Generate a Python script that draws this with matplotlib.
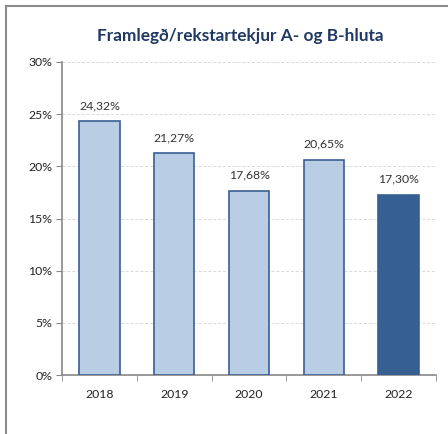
import matplotlib as mpl
mpl.use('Agg')
import matplotlib.pyplot as plt
from matplotlib.lines import Line2D

years = ['2018', '2019', '2020', '2021', '2022']
values = [24.32, 21.27, 17.68, 20.65, 17.30]
labels = ['24,32%', '21,27%', '17,68%', '20,65%', '17,30%']
yticks = [0, 5, 10, 15, 20, 25, 30]

plt.rcParams['font.family'] = ['Lato', 'DejaVu Sans']

fig = plt.figure(figsize=(4.48, 4.34), dpi=100)
ax = fig.add_axes([62/448, 1 - 375/434, (436 - 62)/448, (375 - 62)/434])

x = list(range(len(years)))
face = ['#B9CDE5'] * 4 + ['#376092']
edge = ['#3A5F92'] * 4 + ['#376092']
ax.bar(x, values, width=0.54, color=face, edgecolor=edge, linewidth=1.2, zorder=3)

for xi, v, lab in zip(x, values, labels):
    ax.annotate(lab, (xi, v), xytext=(0, 7), textcoords='offset points',
                ha='center', va='bottom', fontsize=8.8, color='#333333')

ax.set_xlim(-0.5, 4.5)
ax.set_ylim(0, 30)
ax.set_yticks(yticks)
ax.set_yticklabels(['{}%'.format(t) for t in yticks])
ax.set_xticks(x)
ax.set_xticklabels(years)
ax.set_xticks([i + 0.5 for i in range(-1, 5)], minor=True)
ax.tick_params(axis='x', which='major', length=0, pad=10, labelsize=8.8, colors='#222222')
ax.tick_params(axis='x', which='minor', length=4, color='#888888', direction='out')
ax.tick_params(axis='y', length=4, labelsize=8.8, colors='#222222', pad=3)
ax.tick_params(axis='y', color='#888888')

ax.grid(axis='y', color='#D9D9D9', linestyle=(0, (3, 2)), linewidth=0.7, zorder=0)
for s in ['top', 'right']:
    ax.spines[s].set_visible(False)
for s in ['left', 'bottom']:
    ax.spines[s].set_color('#888888')
    ax.spines[s].set_linewidth(1.2)

fig.text(240/448, 1 - 36/434, 'Framlegð/rekstartekjur A- og B-hluta', ha='center', va='center',
         fontsize=12.4, fontweight='bold', color='#1F3864')

# frame around chart area (only top and left visible)
fig.add_artist(Line2D([6/448, 6/448], [0, 1 - 6/434], transform=fig.transFigure, color='#8C8C8C', lw=1.5))
fig.add_artist(Line2D([6/448, 1], [1 - 6/434, 1 - 6/434], transform=fig.transFigure, color='#8C8C8C', lw=1.5))

plt.savefig('out.png', dpi=100)
